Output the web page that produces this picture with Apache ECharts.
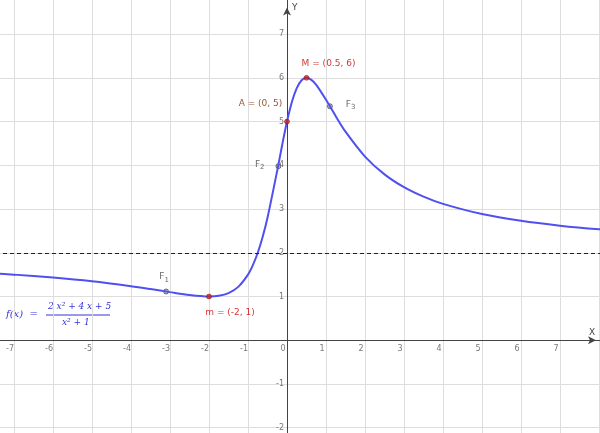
<!DOCTYPE html>
<html><head><meta charset="utf-8">
<script src="https://cdn.jsdelivr.net/npm/echarts@6/dist/echarts.min.js"></script>
<style>html,body{margin:0;padding:0;background:#fff}#c{width:600px;height:433px}</style>
</head><body><div id="c"></div>
<script>
// points
const xs = [-8, -7.5, -7, -6, -5, -4, -3.5, -3, -2.5, -2, -1.75, -1.5, -1.25, -1, -0.875, -0.75, -0.625, -0.5, -0.25, -0.125, 0, 0.125, 0.25, 0.375, 0.5, 0.625, 0.75, 1, 1.25, 1.5, 2, 2.5, 3, 3.5, 4, 5, 6, 7, 8, 9];
const ys = [1.554, 1.528, 1.5, 1.432, 1.346, 1.235, 1.17, 1.1, 1.034, 1, 1.015, 1.077, 1.22, 1.5, 1.717, 2, 2.36, 2.8, 3.882, 4.46, 5, 5.446, 5.765, 5.945, 6, 5.955, 5.84, 5.5, 5.122, 4.769, 4.2, 3.793, 3.5, 3.283, 3.118, 2.885, 2.73, 2.62, 2.538, 2.476];
const xTicks = [-7, -6, -5, -4, -3, -2, -1, 0, 1, 2, 3, 4, 5, 6, 7];
const yTicks = [-2, -1, 1, 2, 3, 4, 5, 6, 7];
const redPoints = [
  { name: 'M = (0.5, 6)', value: [0.5, 6], pos: 'top', color: '#cc0000', off: [22, -3] },
  { name: 'A = (0, 5)', value: [0, 5], pos: 'left', color: '#7a2a00', off: [2, -18] },
  { name: 'm = (-2, 1)', value: [-2, 1], pos: 'bottom', color: '#cc0000', off: [21, 5] }
];
const grayPoints = [
  { name: 'F{s|1}', value: [-3.1, 1.114], pos: 'top', off: [-2, 0] },
  { name: 'F{s|2}', value: [-0.22, 3.98], pos: 'left', off: [-6, -2] },
  { name: 'F{s|3}', value: [1.1, 5.35], pos: 'right', off: [8, -2] }
];

const chart = echarts.init(document.getElementById('c'));
const lbl = { color: '#555', fontSize: 8, fontFamily: 'DejaVu Sans' };
chart.setOption({
  animation: false,
  grid: { left: -25, top: -9.6, width: 663, height: 481, outerBoundsMode: 'none', containLabel: false },
  xAxis: {
    type: 'value', min: -8, max: 9, interval: 1,
    axisLine: { onZero: true, symbol: ['none', 'arrow'], symbolSize: [6, 8], symbolOffset: [0, -42], lineStyle: { color: '#444' } },
    axisTick: { show: false }, axisLabel: { show: false },
    splitLine: { lineStyle: { color: '#ddd' } }
  },
  yAxis: {
    type: 'value', min: -3, max: 8, interval: 1,
    axisLine: { onZero: true, symbol: ['none', 'arrow'], symbolSize: [6, 8], symbolOffset: [0, -17], lineStyle: { color: '#444' } },
    axisTick: { show: false }, axisLabel: { show: false },
    splitLine: { lineStyle: { color: '#ddd' } }
  },
  series: [
    {
      type: 'line', data: xs.map((x, i) => [x, ys[i]]), smooth: 0.3, showSymbol: false,
      lineStyle: { color: '#5050f0', width: 2 },
      markLine: {
        silent: true, symbol: 'none', label: { show: false },
        lineStyle: { color: '#222', type: [4, 3], width: 1 },
        data: [{ yAxis: 2 }]
      }
    },
    {
      type: 'scatter', symbolSize: 0, silent: true,
      data: xTicks.map(v => [v, 0]),
      label: Object.assign({ show: true, position: 'bottom', distance: 5, offset: [-4, 0],
        formatter: p => p.value[0] }, lbl)
    },
    {
      type: 'scatter', symbolSize: 0, silent: true,
      data: yTicks.map(v => [0, v]),
      label: Object.assign({ show: true, position: 'left', distance: 3,
        formatter: p => p.value[1] }, lbl)
    },
    {
      type: 'scatter', symbolSize: 5, z: 5,
      data: redPoints.map(p => ({ value: p.value, name: p.name,
        label: { position: p.pos, color: p.color, distance: 4, offset: p.off } })),
      itemStyle: { color: '#cc2222', borderColor: '#600', borderWidth: 0.5 },
      label: { show: true, formatter: '{b}', fontSize: 9, fontFamily: 'DejaVu Sans' }
    },
    {
      type: 'scatter', symbolSize: 5,
      data: grayPoints.map(p => ({ value: p.value, name: p.name,
        label: { position: p.pos, offset: p.off } })),
      itemStyle: { color: '#aaa', borderColor: '#333', borderWidth: 0.8 },
      label: { show: true, formatter: '{b}', fontSize: 9, color: '#444', fontFamily: 'DejaVu Sans',
        rich: { s: { fontSize: 7, color: '#444', verticalAlign: 'bottom', padding: [6, 0, 0, 0] } } }
    }
  ],
  graphic: [
    { type: 'text', left: 589, top: 328, style: { text: 'X', fontSize: 9, fill: '#444', fontFamily: 'DejaVu Sans' } },
    { type: 'text', left: 292, top: 3, style: { text: 'Y', fontSize: 9, fill: '#444', fontFamily: 'DejaVu Sans' } },
    { type: 'text', left: 6, top: 309, style: { text: 'f(x)  =', fontSize: 10, fill: '#3333dd', fontStyle: 'italic', fontFamily: 'DejaVu Serif' } },
    { type: 'text', left: 48, top: 302, style: { text: '2 x² + 4 x + 5', fontSize: 9, fill: '#3333dd', fontStyle: 'italic', fontFamily: 'DejaVu Serif' } },
    { type: 'line', shape: { x1: 46, y1: 315, x2: 110, y2: 315 }, style: { stroke: '#3333dd', lineWidth: 1 } },
    { type: 'text', left: 62, top: 318, style: { text: 'x² + 1', fontSize: 9, fill: '#3333dd', fontStyle: 'italic', fontFamily: 'DejaVu Serif' } }
  ]
});
</script></body></html>
